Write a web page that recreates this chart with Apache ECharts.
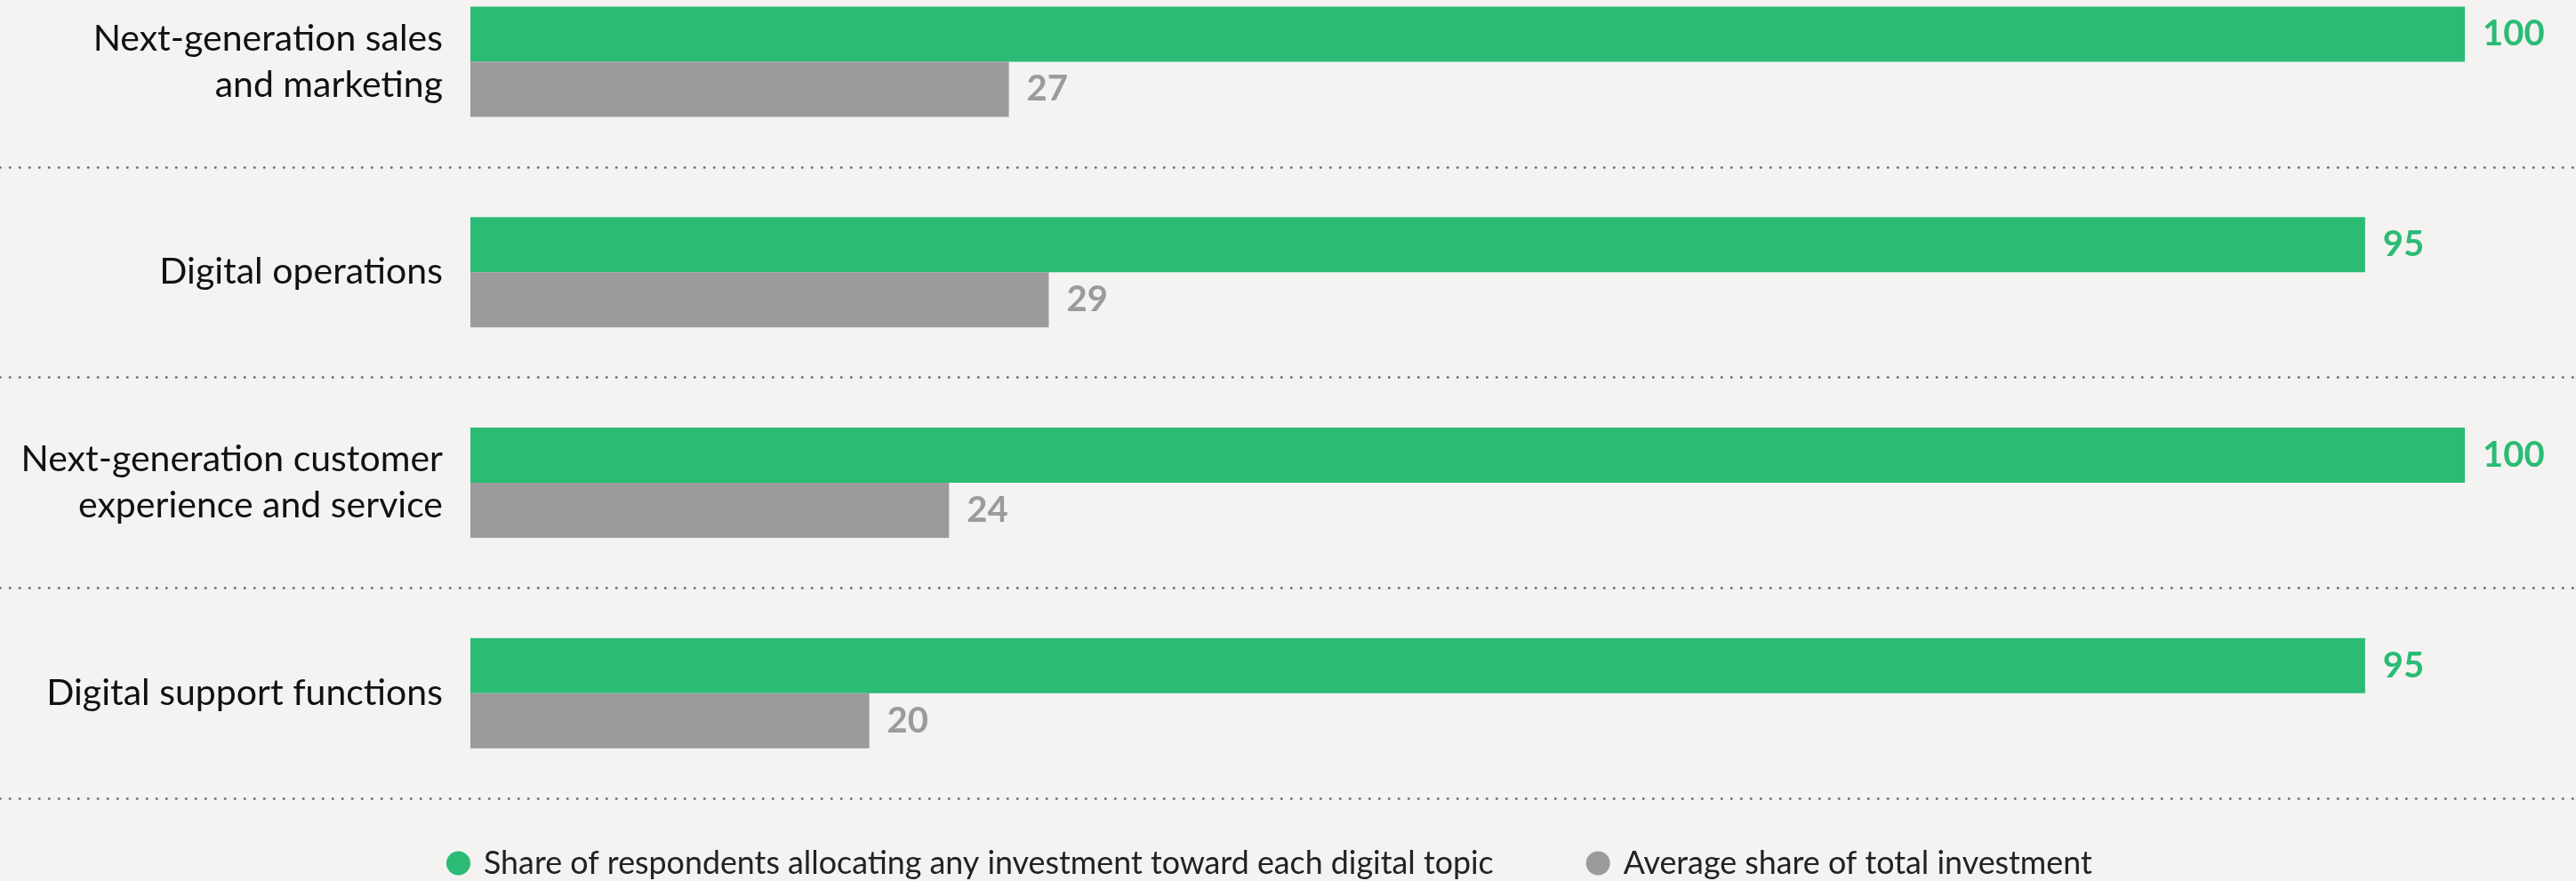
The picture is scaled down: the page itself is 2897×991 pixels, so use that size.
<!DOCTYPE html>
<html>
<head>
<meta charset="utf-8">
<script src="https://cdn.jsdelivr.net/npm/echarts@6/dist/echarts.min.js"></script>
<style>
html,body{margin:0;padding:0;background:#f4f3f1;}
#chart{width:2897px;height:991px;}
</style>
</head>
<body>
<div id="chart"></div>
<script>
var categories = [
  "Next-generation sales\nand marketing",
  "Digital operations",
  "Next-generation customer\nexperience and service",
  "Digital support functions"
];
var shareRespondents = [100, 95, 100, 95];
var avgShareInvestment = [27, 29, 24, 20];
var seriesNames = [
  "Share of respondents allocating any investment toward each digital topic",
  "Average share of total investment"
];

var GREEN = "#2bbb75";
var GRAY = "#9b9b9b";
var FONT = "Lato";

var chart = echarts.init(document.getElementById("chart"));
chart.setOption({
  backgroundColor: "#f4f3f1",
  animation: false,
  legend: {
    left: 497,
    top: 948,
    itemWidth: 27,
    itemHeight: 27,
    itemGap: 104,
    icon: "circle",
    textStyle: { fontFamily: FONT, fontSize: 35.8, color: "#222", padding: [0, 0, 0, 10] },
    data: seriesNames
  },
  grid: [
    { left: 529, right: 125, top: -49, bottom: 93, containLabel: false, outerBoundsMode: "none" },
    { left: 0, right: 0, top: -49, bottom: 93, containLabel: false, outerBoundsMode: "none" }
  ],
  xAxis: [
    { gridIndex: 0, type: "value", min: 0, max: 100, show: false },
    { gridIndex: 1, type: "value", min: 0, max: 100, show: false }
  ],
  yAxis: [
    {
      gridIndex: 0, type: "category", data: categories, inverse: true,
      axisLine: { show: false }, axisTick: { show: false }, splitLine: { show: false },
      axisLabel: {
        margin: 31, fontFamily: FONT, fontSize: 41, lineHeight: 52, color: "#111", align: "right"
      }
    },
    {
      gridIndex: 1, type: "category", data: categories, inverse: true,
      axisLine: { show: false }, axisTick: { show: false }, axisLabel: { show: false },
      splitLine: {
        show: true,
        lineStyle: { color: "#666", width: 2.5, type: [0.5, 10.5], cap: "round" }
      }
    }
  ],
  series: [
    {
      name: seriesNames[0], type: "bar", xAxisIndex: 0, yAxisIndex: 0,
      data: shareRespondents, barWidth: 62, barGap: "0%",
      itemStyle: { color: GREEN },
      label: { show: true, position: "right", distance: 20, fontFamily: FONT, fontWeight: "bold", fontSize: 40, color: GREEN }
    },
    {
      name: seriesNames[1], type: "bar", xAxisIndex: 0, yAxisIndex: 0,
      data: avgShareInvestment, barWidth: 62, barGap: "0%",
      itemStyle: { color: GRAY },
      label: { show: true, position: "right", distance: 20, fontFamily: FONT, fontWeight: "bold", fontSize: 40, color: GRAY }
    }
  ]
});
</script>
</body>
</html>
